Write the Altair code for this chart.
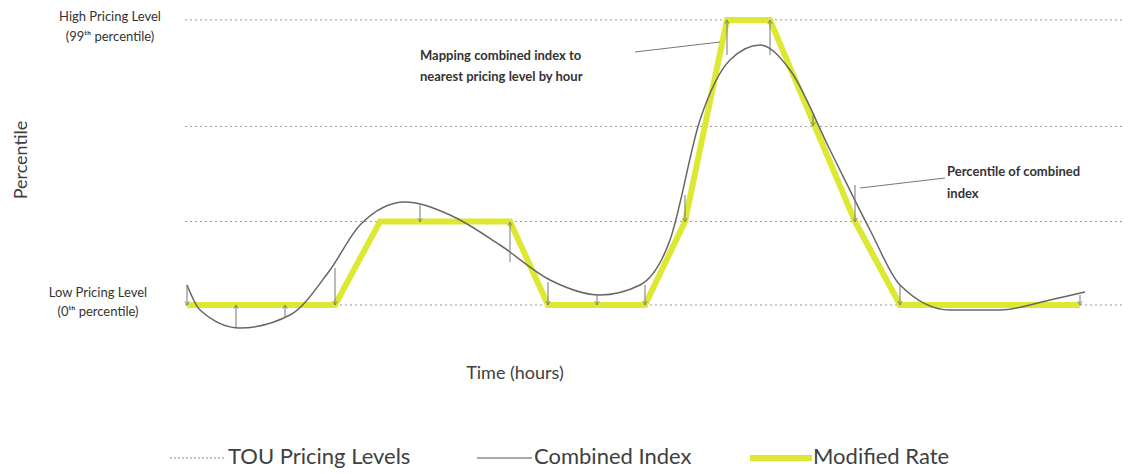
import altair as alt
import pandas as pd

PXH = 37.2
def h(px): return (px - 187) / PXH
def p(py): return (305 - py) / 2.88

levels = [0, 29, 62, 99]
step_px = [187, 335, 380, 510, 548, 645, 685, 727, 770, 855, 900, 1080]
step_lv = [0, 0, 29, 29, 0, 0, 29, 99, 99, 29, 0, 0]
curve_px = [187, 200, 240, 290, 330, 360, 405, 450, 500, 550, 600, 640, 670, 700, 730, 760, 790, 830, 870, 900, 950, 1000, 1050, 1085]
curve_py = [285, 310, 328, 315, 270, 225, 202, 215, 245, 280, 295, 285, 240, 120, 60, 45, 70, 150, 230, 285, 310, 310, 300, 292]
arrow_px = [187, 236, 285, 335, 420, 510, 548, 597, 645, 685, 727, 770, 813, 855, 900, 1080]
arrow_from = [285, 327, 318, 268, 205, 262, 282, 295, 285, 195, 55, 55, 115, 185, 285, 295]
arrow_to = [305, 305, 305, 305, 222, 222, 305, 305, 305, 222, 20, 20, 126, 222, 305, 305]

X = alt.Scale(domain=[h(8), h(1125)])
Y = alt.Scale(domain=[p(474), p(8)])
def xe(f="x"): return alt.X(f"{f}:Q", scale=X, axis=None)
def ye(f="y"): return alt.Y(f"{f}:Q", scale=Y, axis=None)

grid = alt.Chart(pd.DataFrame({"y": levels, "x": h(185), "x2": h(1130)})).mark_rule(
    color="#999", strokeDash=[2, 3]).encode(x=xe(), x2="x2:Q", y=ye())
step = alt.Chart(pd.DataFrame({"x": [h(v) for v in step_px], "y": step_lv})).mark_line(
    color="#dde832", strokeWidth=6).encode(x=xe(), y=ye())
curve = alt.Chart(pd.DataFrame({"x": [h(v) for v in curve_px], "y": [p(v) for v in curve_py]})).mark_line(
    color="#666", strokeWidth=1.5, interpolate="monotone").encode(x=xe(), y=ye())
adf = pd.DataFrame({"x": [h(v) for v in arrow_px], "y": [p(v) for v in arrow_from],
                    "y2": [p(v) for v in arrow_to],
                    "dir": ["down" if t > f else "up" for f, t in zip(arrow_from, arrow_to)]})
arrows = alt.Chart(adf).mark_rule(color="#777", strokeWidth=1).encode(x=xe(), y=ye(), y2="y2:Q")
head_dn = alt.Chart(adf[adf.dir == "down"]).mark_point(
    shape="M-0.6,-1L0,0L0.6,-1", filled=False, color="#777", size=60, strokeWidth=1).encode(x=xe(), y=ye("y2"))
head_up = alt.Chart(adf[adf.dir == "up"]).mark_point(
    shape="M-0.6,1L0,0L0.6,1", filled=False, color="#777", size=60, strokeWidth=1).encode(x=xe(), y=ye("y2"))

leaders = alt.Chart(pd.DataFrame({"x": [h(635), h(860)], "y": [p(52), p(188)],
                                  "x2": [h(720), h(945)], "y2": [p(42), p(178)]})).mark_rule(
    color="#777").encode(x=xe(), y=ye(), x2="x2:Q", y2="y2:Q")

def txt(items, size, align="left", angle=0, color="#404040", weight="normal"):
    df = pd.DataFrame(items, columns=["px", "py", "t"])
    df["x"] = df.px.map(h); df["y"] = df.py.map(p)
    return alt.Chart(df).mark_text(font="Lato", fontSize=size, align=align, angle=angle, fontWeight=weight,
                                   color=color, baseline="middle").encode(x=xe(), y=ye(), text="t:N")

notes = txt([(110, 17, "High Pricing Level"), (110, 37, "(99ᵗʰ percentile)"),
             (98, 293, "Low Pricing Level"), (98, 312, "(0ᵗʰ percentile)")], 13, "center", color="#333")
ann = txt([(420, 56, "Mapping combined index to"), (420, 77, "nearest pricing level by hour"),
           (947, 172, "Percentile of combined"), (947, 194, "index")], 13, color="#333", weight="bold")
axt = txt([(515, 374, "Time (hours)")], 18, "center")
ylab = txt([(22, 160, "Percentile")], 18, "center", angle=270)

leg_lines = alt.Chart(pd.DataFrame({"x": [h(170), h(477)], "x2": [h(226), h(532)], "y": [p(458)] * 2,
                                    "k": ["a", "b"]})).mark_rule().encode(
    x=xe(), x2="x2:Q", y=ye(),
    color=alt.Color("k:N", scale=alt.Scale(domain=["a", "b"], range=["#888", "#555"]), legend=None),
    strokeDash=alt.StrokeDash("k:N", scale=alt.Scale(domain=["a", "b"], range=[[2, 2], [1, 0]]), legend=None))
leg_y = alt.Chart(pd.DataFrame({"x": [h(750)], "x2": [h(812)], "y": [p(458)]})).mark_rule(
    color="#dde832", strokeWidth=6).encode(x=xe(), x2="x2:Q", y=ye())
leg_t = txt([(228, 457, "TOU Pricing Levels"), (534, 457, "Combined Index"), (813, 457, "Modified Rate")], 22)

chart = alt.layer(grid, step, curve, arrows, head_dn, head_up, leaders, notes, ann, axt, ylab,
                  leg_lines, leg_y, leg_t).properties(
    width=1117, height=466, padding=0, autosize=alt.AutoSizeParams(type="none"),
    background="white").configure_view(stroke=None)
chart.save("out.html", embed_options={"renderer": "svg", "actions": False})
